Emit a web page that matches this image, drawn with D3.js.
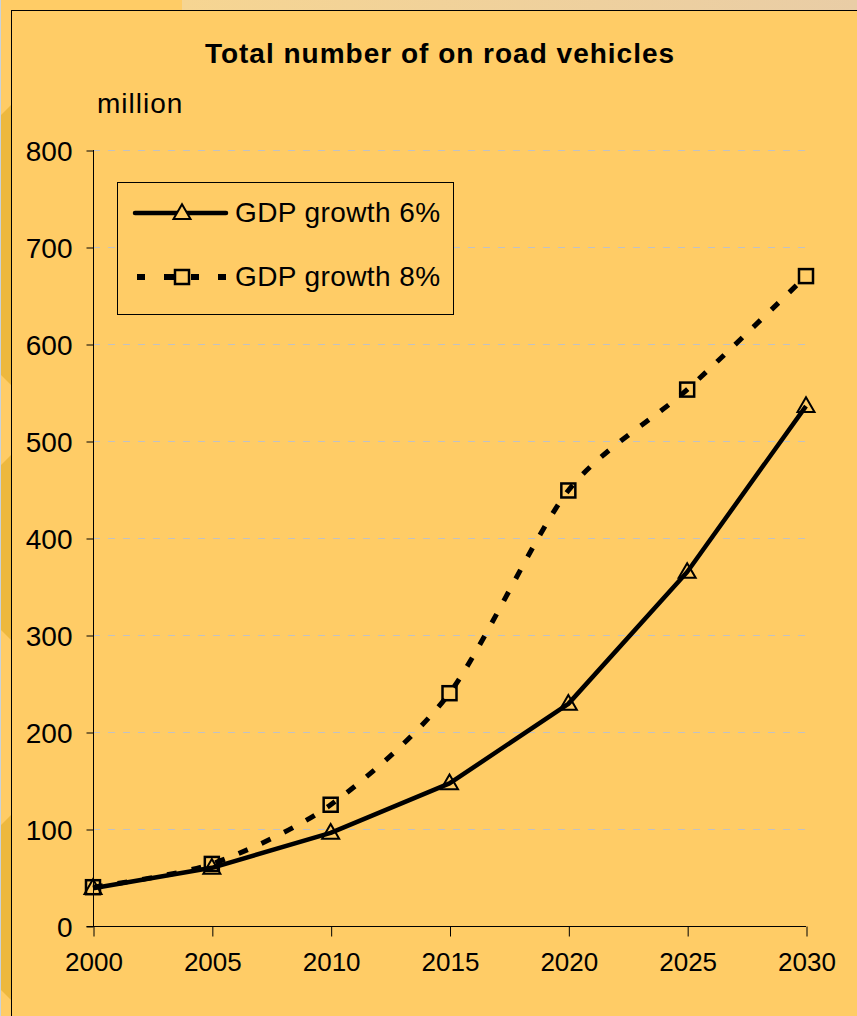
<!DOCTYPE html>
<html>
<head>
<meta charset="utf-8">
<script src="https://cdn.jsdelivr.net/npm/d3@7"></script>
<style>
  body { margin: 0; background: #FFCC66; }
  svg { display: block; }
  text { font-family: "Liberation Sans", Arial, sans-serif; fill: #000; }
</style>
</head>
<body>
<div id="chart"></div>
<script>
var years = [2000, 2005, 2010, 2015, 2020, 2025, 2030];
var growth6 = [39, 60, 96, 147, 229, 365, 536];
var growth8 = [40, 64, 125, 240, 449, 553, 670];
var seriesNames = ["GDP growth 6%", "GDP growth 8%"];
var yTicks = [0, 100, 200, 300, 400, 500, 600, 700, 800];

function init() {
    var w = 857;
    var h = 1016;
    var bg = "#FFCC66";

    var svg = d3.select("#chart")
        .append("svg")
        .attr("width", w)
        .attr("height", h);

    // slide background around the chart frame
    var grad = svg.append("defs").append("linearGradient")
        .attr("id", "topStrip");
    grad.append("stop").attr("offset", "0%").attr("stop-color", "#F6D592");
    grad.append("stop").attr("offset", "100%").attr("stop-color", "#E9CDA6");
    svg.append("rect").attr("width", w).attr("height", h).attr("fill", bg);
    svg.append("rect").attr("x", 182).attr("y", 0).attr("width", w - 182).attr("height", 10)
        .attr("fill", "url(#topStrip)");
    svg.append("rect").attr("x", 0).attr("y", 0).attr("width", 1).attr("height", h)
        .attr("fill", "#C9D2DA");
    [[105, 385], [455, 640], [815, 1000]].forEach(function(p) {
        svg.append("path")
            .attr("d", "M1," + (p[0] + 10) + " L11," + p[0] + " L11," + p[1] + " L1," + (p[1] - 10) + "Z")
            .attr("fill", "#EDB83E");
    });

    // chart frame
    svg.append("rect")
        .attr("x", 11.5).attr("y", 10.5)
        .attr("width", w).attr("height", h)
        .attr("fill", bg)
        .attr("stroke", "#000")
        .attr("stroke-width", 1);

    var left = 93, right = 806, top = 150, bottom = 926;

    var x = d3.scaleLinear()
        .domain([2000, 2030])
        .range([left, right]);

    var y = d3.scaleLinear()
        .domain([0, 800])
        .range([bottom, top]);

    // gridlines
    svg.append("g")
        .selectAll("line")
        .data(yTicks.slice(1))
        .enter()
        .append("line")
        .attr("x1", left)
        .attr("x2", right)
        .attr("y1", function(d) { return y(d) + 0.5; })
        .attr("y2", function(d) { return y(d) + 0.5; })
        .attr("stroke", "#C2C2C2")
        .attr("stroke-width", 1)
        .attr("stroke-dasharray", "7,8");

    // axes
    var yAxis = svg.append("g")
        .attr("transform", "translate(" + (left + 0.5) + ",0.5)")
        .call(d3.axisLeft(y).tickValues(yTicks).tickSize(7).tickPadding(14));
    var xAxis = svg.append("g")
        .attr("transform", "translate(0.5," + (bottom + 0.5) + ")")
        .call(d3.axisBottom(x).tickValues(years).tickFormat(d3.format("d")).tickSize(10).tickPadding(16));

    [yAxis, xAxis].forEach(function(g) {
        g.select(".domain").attr("stroke", "#000");
        g.selectAll(".tick line").attr("stroke", "#000");
        g.selectAll("text").attr("font-family", "'Liberation Sans', Arial, sans-serif").attr("fill", "#000");
    });
    yAxis.select(".domain").attr("d", "M0," + (top - 0.5) + "V" + (bottom - 0.5));
    xAxis.select(".domain").attr("d", "M" + (left - 7) + ",0H" + (right - 0.5));
    yAxis.selectAll("text").attr("font-size", 28).attr("dy", "0.34em");
    xAxis.selectAll("text").attr("font-size", 26).attr("dy", "0.72em");

    // lines
    var line6 = d3.line()
        .x(function(d, i) { return x(years[i]); })
        .y(function(d) { return y(d); });
    var line8 = d3.line()
        .x(function(d, i) { return x(years[i]); })
        .y(function(d) { return y(d); })
        .curve(d3.curveCardinal.tension(0.2));

    svg.append("path")
        .datum(growth6)
        .attr("d", line6)
        .attr("fill", "none")
        .attr("stroke", "#000")
        .attr("stroke-width", 4.5)
        .attr("stroke-linejoin", "round");

    svg.append("path")
        .datum(growth8)
        .attr("d", line8)
        .attr("fill", "none")
        .attr("stroke", "#000")
        .attr("stroke-width", 5)
        .attr("stroke-dasharray", "10,15");

    var tri = d3.symbol().type(d3.symbolTriangle).size(125);

    svg.append("g")
        .selectAll("path")
        .data(growth6)
        .enter()
        .append("path")
        .attr("d", tri)
        .attr("transform", function(d, i) { return "translate(" + x(years[i]) + "," + (y(d) + 1) + ")"; })
        .attr("fill", "none")
        .attr("stroke", "#000")
        .attr("stroke-width", 2);

    svg.append("g")
        .selectAll("rect")
        .data(growth8)
        .enter()
        .append("rect")
        .attr("x", function(d, i) { return x(years[i]) - 7; })
        .attr("y", function(d) { return y(d) - 7; })
        .attr("width", 14)
        .attr("height", 14)
        .attr("fill", "none")
        .attr("stroke", "#000")
        .attr("stroke-width", 2.5);

    // title and unit
    svg.append("text")
        .attr("x", 440)
        .attr("y", 63)
        .attr("text-anchor", "middle")
        .attr("font-size", 28)
        .attr("font-weight", "bold")
        .attr("letter-spacing", 1)
        .text("Total number of on road vehicles");

    svg.append("text")
        .attr("x", 97)
        .attr("y", 113)
        .attr("font-size", 28)
        .attr("letter-spacing", 1)
        .text("million");

    // legend
    var legend = svg.append("g");
    legend.append("rect")
        .attr("x", 117.5).attr("y", 182.5)
        .attr("width", 336).attr("height", 132)
        .attr("fill", bg)
        .attr("stroke", "#000")
        .attr("stroke-width", 1);

    var rows = [213, 277];
    legend.append("line")
        .attr("x1", 135).attr("x2", 226)
        .attr("y1", rows[0]).attr("y2", rows[0])
        .attr("stroke", "#000").attr("stroke-width", 4.5)
        .attr("stroke-linecap", "round");
    legend.append("path")
        .attr("d", tri)
        .attr("transform", "translate(182," + (rows[0] + 1) + ")")
        .attr("fill", bg).attr("stroke", "#000").attr("stroke-width", 2);

    legend.append("line")
        .attr("x1", 137).attr("x2", 226)
        .attr("y1", rows[1]).attr("y2", rows[1])
        .attr("stroke", "#000").attr("stroke-width", 6)
        .attr("stroke-dasharray", "8,19");
    legend.append("line")
        .attr("x1", 168).attr("x2", 198)
        .attr("y1", rows[1]).attr("y2", rows[1])
        .attr("stroke", "#000").attr("stroke-width", 6)
        .attr("stroke-dasharray", "7,16,7");
    legend.append("rect")
        .attr("x", 175).attr("y", rows[1] - 7)
        .attr("width", 14).attr("height", 14)
        .attr("fill", bg).attr("stroke", "#000").attr("stroke-width", 2.5);

    legend.selectAll("text")
        .data(seriesNames)
        .enter()
        .append("text")
        .attr("x", 235)
        .attr("y", function(d, i) { return rows[i] + 9; })
        .attr("font-size", 28)
        .attr("letter-spacing", 0.4)
        .text(function(d) { return d; });
}

window.onload = init;
</script>
</body>
</html>
